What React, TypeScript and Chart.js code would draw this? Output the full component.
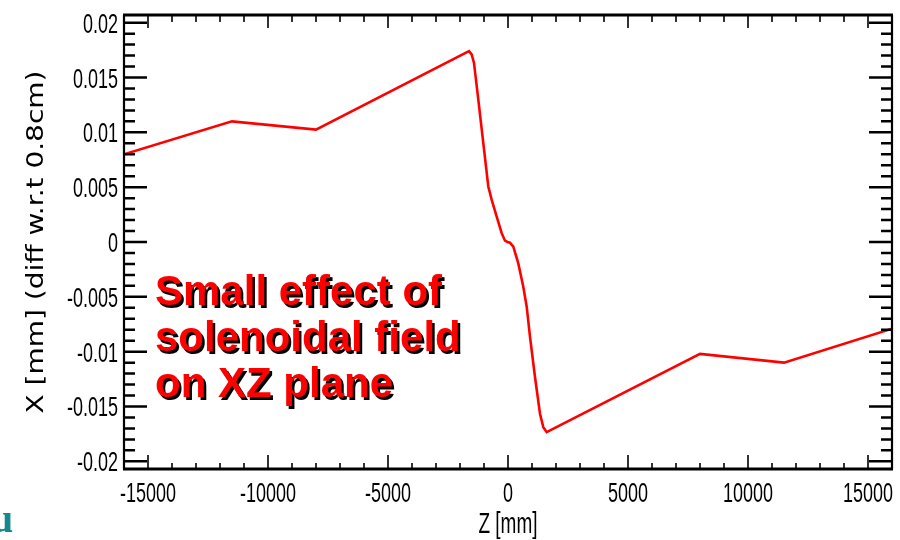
import React, { useEffect, useRef } from "react";
import { Chart, registerables } from "chart.js";

Chart.register(...registerables);

// ---- data ----
const zPositions = [
  -16000, -11500, -8000, -1625, -1514, -1417, -1237, -1029, -821, -679, -471,
  -262, -125, -28, 83, 221, 429, 637, 779, 917, 1125, 1333, 1471, 1612, 8000,
  11500, 16000,
];
const xDeviation = [
  0.008, 0.011, 0.01025, 0.0174, 0.0171, 0.01633, 0.01298, 0.00902, 0.00506,
  0.00384, 0.00231, 0.0008, 0.00012, 0.0, -0.00006, -0.00043, -0.00195,
  -0.00408, -0.0059, -0.00866, -0.01231, -0.01566, -0.01688, -0.01734, -0.0102,
  -0.011, -0.0079,
];
const zRange = [-16000, 16000];
const xRange = [-0.0207, 0.0207];
const zMajorStep = 5000;
const xMajorStep = 0.005;
const minorDivisions = 5;
const xAxisTitle = "Z [mm]";
const yAxisTitle = "X [mm] (diff w.r.t 0.8cm)";
const noteLines = ["Small effect of", "solenoidal field", "on XZ plane"];
const cornerText = "u";

const LABEL_FONT = "'Liberation Sans', Arial, Helvetica, sans-serif";
const STRETCH = 1.55;

function drawStretched(
  ctx: CanvasRenderingContext2D,
  text: string,
  x: number,
  y: number,
  font: string,
  sy: number,
  align: CanvasTextAlign
) {
  ctx.save();
  ctx.translate(x, y);
  ctx.scale(1, sy);
  ctx.font = font;
  ctx.textAlign = align;
  ctx.textBaseline = "alphabetic";
  ctx.fillText(text, 0, 0);
  ctx.restore();
}

function stepValues(min: number, max: number, step: number) {
  const out: number[] = [];
  const k0 = Math.ceil(min / step - 1e-9);
  const k1 = Math.floor(max / step + 1e-9);
  for (let k = k0; k <= k1; k++) out.push(k * step);
  return out;
}

function isMultiple(v: number, step: number) {
  return Math.abs(v / step - Math.round(v / step)) < 1e-6;
}

const rootFramePlugin = {
  id: "rootFrame",
  afterDatasetsDraw(chart: any) {
    const { ctx, chartArea: a, scales } = chart;
    const xs = scales.x;
    const ys = scales.y;
    ctx.save();
    ctx.strokeStyle = "#000";
    ctx.fillStyle = "#000";

    // Y ticks (left and right, pointing inward)
    ctx.lineWidth = 2.5;
    for (const v of stepValues(ys.min, ys.max, xMajorStep / minorDivisions)) {
      const py = ys.getPixelForValue(v);
      const len = isMultiple(v, xMajorStep) ? 23 : 11;
      ctx.beginPath();
      ctx.moveTo(a.left, py);
      ctx.lineTo(a.left + len, py);
      ctx.moveTo(a.right, py);
      ctx.lineTo(a.right - len, py);
      ctx.stroke();
    }

    // X ticks (bottom and top, pointing inward)
    ctx.lineWidth = 1.6;
    for (const v of stepValues(xs.min, xs.max, zMajorStep / minorDivisions)) {
      if (v <= xs.min || v >= xs.max) continue;
      const major = isMultiple(v, zMajorStep);
      const px = xs.getPixelForValue(v);
      ctx.beginPath();
      ctx.moveTo(px, a.bottom);
      ctx.lineTo(px, a.bottom - (major ? 14 : 6));
      ctx.moveTo(px, a.top);
      ctx.lineTo(px, a.top + (major ? 13 : 7));
      ctx.stroke();
    }

    // Frame
    ctx.lineWidth = 3;
    ctx.beginPath();
    ctx.moveTo(a.left - 1, a.top);
    ctx.lineTo(a.right + 1, a.top);
    ctx.moveTo(a.left - 1, a.bottom);
    ctx.lineTo(a.right + 1, a.bottom);
    ctx.stroke();
    ctx.lineWidth = 2.2;
    ctx.beginPath();
    ctx.moveTo(a.left, a.top);
    ctx.lineTo(a.left, a.bottom);
    ctx.moveTo(a.right, a.top);
    ctx.lineTo(a.right, a.bottom);
    ctx.stroke();

    // Tick labels
    const tickFont = `18px ${LABEL_FONT}`;
    for (const v of stepValues(ys.min, ys.max, xMajorStep)) {
      const label = Math.abs(v) < 1e-12 ? "0" : String(parseFloat(v.toFixed(4)));
      drawStretched(ctx, label, a.left - 6, ys.getPixelForValue(v) + 10, tickFont, STRETCH, "right");
    }
    for (const v of stepValues(xs.min, xs.max, zMajorStep)) {
      const label = Math.abs(v) < 1e-9 ? "0" : String(Math.round(v));
      drawStretched(ctx, label, xs.getPixelForValue(v), a.bottom + 33, tickFont, STRETCH, "center");
    }

    // Axis titles
    drawStretched(ctx, xAxisTitle, (a.left + a.right) / 2, a.bottom + 64, `19px ${LABEL_FONT}`, STRETCH, "center");

    ctx.save();
    ctx.translate(43, (a.top + a.bottom) / 2);
    ctx.rotate(-Math.PI / 2);
    ctx.font = "23px 'DejaVu Sans', Verdana, sans-serif";
    const w = ctx.measureText(yAxisTitle).width;
    ctx.scale(343 / w, 1);
    ctx.textAlign = "center";
    ctx.textBaseline = "alphabetic";
    ctx.fillText(yAxisTitle, 0, 0);
    ctx.restore();

    // Annotation text with drop shadow
    ctx.save();
    ctx.font = `bold 42px ${LABEL_FONT}`;
    ctx.textAlign = "left";
    ctx.textBaseline = "alphabetic";
    noteLines.forEach((line, i) => {
      const bx = 155;
      const by = 305 + i * 46;
      ctx.fillStyle = "#000";
      ctx.fillText(line, bx + 2.5, by + 2.5);
      ctx.fillStyle = "#ff0000";
      ctx.fillText(line, bx, by);
    });
    ctx.restore();

    // Corner fragment from slide
    ctx.save();
    ctx.font = "bold 40px 'Liberation Serif', 'Times New Roman', serif";
    ctx.fillStyle = "#168a8a";
    ctx.textAlign = "left";
    ctx.fillText(cornerText, -9, 532);
    ctx.restore();

    ctx.restore();
  },
};

export default function App() {
  const canvasRef = useRef<HTMLCanvasElement | null>(null);

  useEffect(() => {
    const canvas = canvasRef.current;
    if (!canvas) return;
    const points = zPositions.map((z, i) => ({ x: z, y: xDeviation[i] }));
    const chart = new Chart(canvas, {
      type: "scatter",
      data: {
        datasets: [
          {
            data: points,
            showLine: true,
            borderColor: "#ff0000",
            borderWidth: 2.6,
            pointRadius: 0,
            tension: 0,
          },
        ],
      },
      options: {
        responsive: false,
        animation: false,
        layout: { padding: { left: 0, right: 8, top: 15, bottom: 0 } },
        plugins: { legend: { display: false }, tooltip: { enabled: false } },
        scales: {
          x: {
            type: "linear",
            min: zRange[0],
            max: zRange[1],
            ticks: { display: false },
            grid: { display: false },
            border: { display: false },
            afterFit: (s: any) => {
              s.height = 71;
            },
          },
          y: {
            type: "linear",
            min: xRange[0],
            max: xRange[1],
            ticks: { display: false },
            grid: { display: false },
            border: { display: false },
            afterFit: (s: any) => {
              s.width = 124;
            },
          },
        },
      },
      plugins: [rootFramePlugin],
    });
    return () => chart.destroy();
  }, []);

  return (
    <div style={{ position: "absolute", left: 0, top: 0, width: 900, height: 540, background: "#fff" }}>
      <canvas ref={canvasRef} width={900} height={540} style={{ display: "block" }} />
    </div>
  );
}
